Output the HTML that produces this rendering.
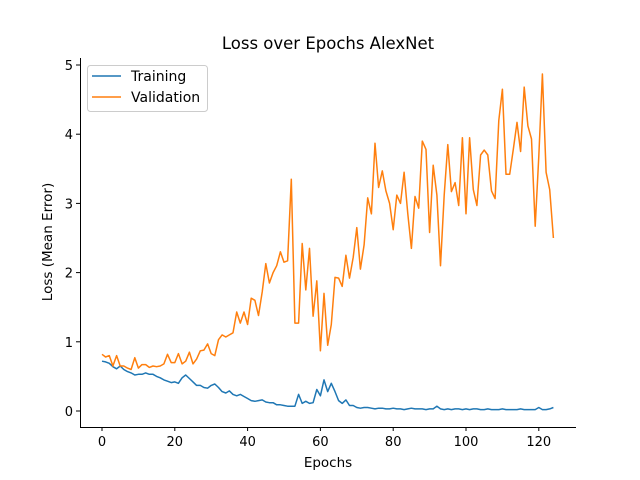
<!DOCTYPE html>
<html><head><meta charset="utf-8"><style>
body{margin:0;background:#fff;}
svg{display:block;font-family:"DejaVu Sans","Liberation Sans",sans-serif;}
</style></head><body>
<svg id="chart" width="640" height="480"></svg>
<script>
const epochs = [];
const trainingLoss = [0.72,0.71,0.69,0.64,0.61,0.65,0.60,0.57,0.55,0.52,0.53,0.53,0.55,0.53,0.53,0.50,0.48,0.45,0.43,0.41,0.42,0.40,0.48,0.52,0.47,0.42,0.37,0.37,0.34,0.33,0.37,0.39,0.34,0.28,0.26,0.29,0.24,0.22,0.24,0.21,0.18,0.15,0.14,0.15,0.16,0.13,0.12,0.12,0.09,0.09,0.08,0.07,0.07,0.07,0.24,0.11,0.14,0.11,0.12,0.31,0.22,0.45,0.28,0.40,0.28,0.15,0.11,0.16,0.08,0.08,0.05,0.04,0.05,0.05,0.04,0.03,0.04,0.04,0.03,0.03,0.04,0.03,0.03,0.02,0.03,0.04,0.03,0.03,0.03,0.02,0.03,0.03,0.07,0.03,0.02,0.03,0.02,0.03,0.03,0.02,0.03,0.02,0.03,0.03,0.02,0.02,0.03,0.02,0.02,0.02,0.03,0.02,0.02,0.02,0.02,0.03,0.02,0.02,0.02,0.02,0.05,0.02,0.02,0.03,0.05];
const validationLoss = [0.82,0.78,0.80,0.65,0.80,0.65,0.65,0.62,0.60,0.77,0.62,0.67,0.67,0.63,0.65,0.64,0.65,0.68,0.82,0.70,0.70,0.83,0.68,0.72,0.85,0.68,0.75,0.87,0.88,0.97,0.83,0.80,1.03,1.10,1.07,1.10,1.13,1.43,1.27,1.43,1.25,1.63,1.60,1.38,1.72,2.13,1.85,2.00,2.10,2.30,2.15,2.17,3.35,1.27,1.27,2.42,1.75,2.35,1.37,1.88,0.87,1.70,0.95,1.25,1.93,1.92,1.80,2.25,1.92,2.22,2.65,2.05,2.40,3.08,2.85,3.87,3.23,3.47,3.18,3.00,2.62,3.12,3.00,3.45,2.85,2.35,3.10,2.93,3.90,3.78,2.58,3.55,3.12,2.10,3.12,3.85,3.17,3.30,2.97,3.95,2.85,3.95,3.20,2.97,3.70,3.77,3.70,3.18,3.07,4.20,4.65,3.42,3.42,3.78,4.17,3.75,4.68,4.12,3.93,2.67,3.68,4.87,3.45,3.20,2.50];
const xTicks = [0,20,40,60,80,100,120];
const yTicks = [0,1,2,3,4,5];
for (let i=0;i<trainingLoss.length;i++) epochs.push(i);

const NS="http://www.w3.org/2000/svg";
const svg=document.getElementById('chart');
const X=v=>102+v*3.64;
const Y=v=>411-v*69.2;
function mk(tag,attrs,parent){const e=document.createElementNS(NS,tag);for(const k in attrs)e.setAttribute(k,attrs[k]);(parent||svg).appendChild(e);return e;}

const t=mk('text',{x:328,y:49,'text-anchor':'middle','font-size':16.5,fill:'#000'});


t.textContent='Loss over Epochs AlexNet';

const spines=mk('path',{d:'M80.5,58 V427.5 H576',stroke:'#000','stroke-width':1,fill:'none'});



xTicks.forEach(v=>{
  const g=mk('g',{});
  
  
  mk('line',{x1:X(v),x2:X(v),y1:427,y2:431,stroke:'#000'},g);
  const tx=mk('text',{x:X(v),y:446,'text-anchor':'middle','font-size':13,fill:'#000'},g);
  tx.textContent=v;
});
yTicks.forEach(v=>{
  const g=mk('g',{});
  
  
  mk('line',{x1:76,x2:80,y1:Y(v),y2:Y(v),stroke:'#000'},g);
  const tx=mk('text',{x:73,y:Y(v)+5,'text-anchor':'end','font-size':13,fill:'#000'},g);
  tx.textContent=v;
});
const xl=mk('text',{x:328,y:467,'text-anchor':'middle','font-size':13.5,fill:'#000'});


xl.textContent='Epochs';
const yl=mk('text',{x:0,y:0,'text-anchor':'middle','font-size':13.5,fill:'#000',transform:'translate(52,242) rotate(-90)'});


yl.textContent='Loss (Mean Error)';

function line(data,color,name){
  const d=data.map((v,i)=>(i?'L':'M')+X(epochs[i]).toFixed(1)+','+Y(v).toFixed(1)).join(' ');
  const p=mk('path',{d:d,stroke:color,'stroke-width':1.5,fill:'none','stroke-linejoin':'round'});
  
  
}
line(trainingLoss,'#1f77b4','training-line');
line(validationLoss,'#ff7f0e','validation-line');

const lg=mk('g',{});


mk('rect',{x:87.5,y:65.5,width:120,height:46,rx:3,fill:'#fff','fill-opacity':0.8,stroke:'#ccc'},lg);
[['Training','#1f77b4',76],['Validation','#ff7f0e',97]].forEach(([n,c,y])=>{
  const e=mk('g',{},lg);
  
  
  mk('line',{x1:92,x2:121,y1:y,y2:y,stroke:c,'stroke-width':1.5},e);
  const tx=mk('text',{x:131,y:y+5,'font-size':14,fill:'#000'},e);
  tx.textContent=n;
});
</script>
</body></html>
